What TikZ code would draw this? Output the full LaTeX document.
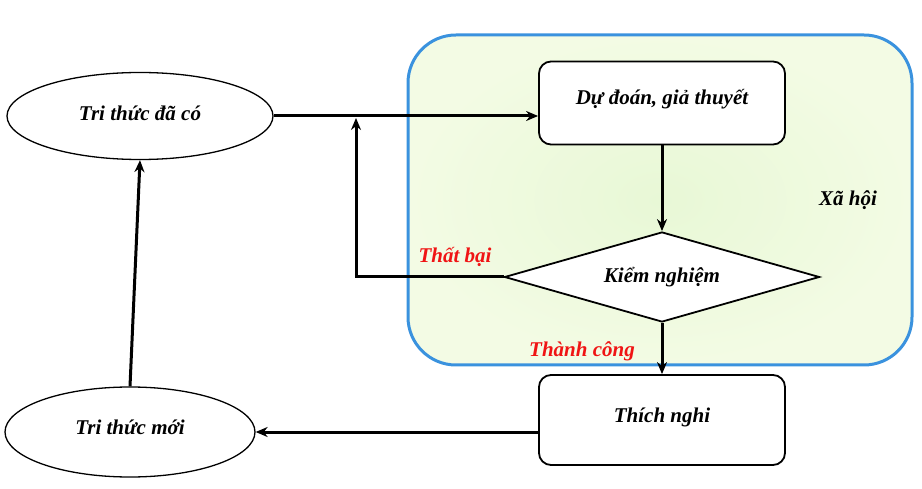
\documentclass[tikz,border=0pt]{standalone}
\usepackage{fontspec}
\setmainfont{Liberation Serif}
\usepackage{xcolor}
\usetikzlibrary{shapes.geometric, arrows.meta}

\definecolor{socblue}{RGB}{58,146,222}
\definecolor{socin}{RGB}{232,248,214}
\definecolor{socout}{RGB}{243,251,228}
\definecolor{notered}{RGB}{240,20,20}

\begin{document}
\begin{tikzpicture}[x=1pt, y=-1pt,
		every node/.style={font=\fontsize{21}{24}\selectfont\bfseries\itshape},
		idea/.style={ellipse, draw, line width=1.3pt, fill=white},
		stage/.style={rectangle, rounded corners=12pt, draw, line width=1.8pt, fill=white, minimum width=246, inner sep=0pt},
		link/.style={line width=3pt, -{Stealth[length=12pt, width=10pt]}},
		note/.style={text=notered}]
		\useasboundingbox (0,0) rectangle (922,489);

		% Society
		\node[draw=socblue, line width=3pt, rounded corners=48pt, inner color=socin, outer color=socout,
			minimum width=504, minimum height=330] (society) at (660,200) {};
		\node (soc) at (848,200) {Xã hội};

		% Knowledge
		\node[idea, minimum width=266, minimum height=87] (known) at (140,116) {\raisebox{6pt}{Tri thức đã có}};
		\node[idea, minimum width=250, minimum height=90] (newk) at (130,432) {\raisebox{10pt}{Tri thức mới}};

		% Steps
		\node[stage, minimum height=83] (guess) at (662,103) {\raisebox{12pt}{Dự đoán, giả thuyết}};
		\node[diamond, aspect=3.5, draw, line width=1.8pt, fill=white, inner sep=0pt,
			minimum width=315, minimum height=90] (test) at (662,277) {Kiểm nghiệm};
		\node[stage, minimum height=90] (adapt) at (662,420) {\raisebox{10pt}{Thích nghi}};

		\coordinate (fb) at (356,277);
		\coordinate (fj) at (356,118);

		\draw[link] (known.east) -- (guess.west |- known.east);
		\draw[link] (guess.south) -- (test.north);
		\draw[link] (test.south) -- (adapt.north);
		\draw[link] (adapt.west |- newk.east) -- (newk.east);
		\draw[link] (newk.north) -- (known.south);
		\draw[link] (test.west) -- (fb) -- (fj);

		% Outcomes
		\node[note] (fail) at (455,257) {Thất bại};
		\node[note] (win) at (582,351) {Thành công};
	\end{tikzpicture}
\end{document}
